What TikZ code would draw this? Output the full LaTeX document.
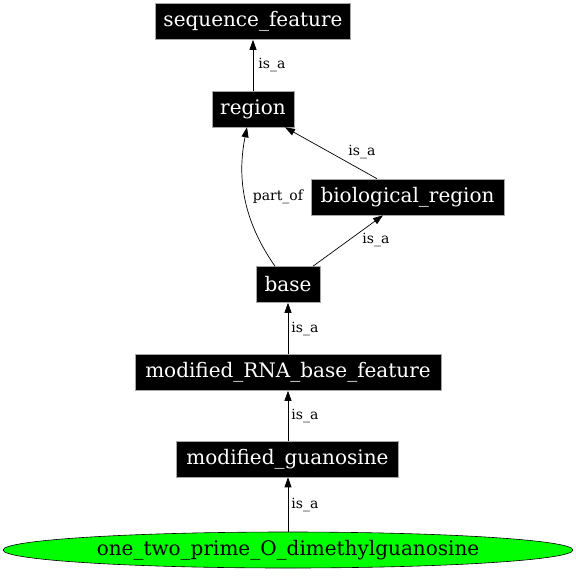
\documentclass[tikz,border=0pt]{standalone}
\usepackage{fontspec}
\newfontfamily\dvserif{DejaVu Serif}
\usetikzlibrary{arrows.meta,shapes.geometric}
\definecolor{leafgreen}{HTML}{00FF00}
\tikzset{
  termbox/.style={rectangle, fill=black, draw=gray!70, line width=0.6pt, text=white,
    font=\dvserif\fontsize{20}{24}\selectfont, minimum height=36pt, inner sep=0pt},
  leaf/.style={ellipse, fill=leafgreen, draw=black, line width=0.6pt,
    font=\dvserif\fontsize{20}{24}\selectfont, minimum height=36pt, minimum width=570pt, inner sep=0pt},
  rel/.style={draw=black, line width=0.7pt, -{Triangle[length=10pt,width=7pt]}},
  lbl/.style={font=\dvserif\fontsize{14}{16}\selectfont, inner sep=1pt, text=black}
}
\begin{document}
\begin{tikzpicture}[x=1pt,y=-1pt]
\useasboundingbox (0,0) rectangle (576,576);
\node[termbox, minimum width=195pt] (sf) at (253,21.5) {sequence\_feature};
\node[termbox, minimum width=82pt] (region) at (253,109) {region};
\node[termbox, minimum width=193pt] (bio) at (407.5,197) {biological\_region};
\node[termbox, minimum width=64pt] (base) at (288,284.5) {base};
\node[termbox, minimum width=306pt] (mrna) at (288,372.5) {modified\_RNA\_base\_feature};
\node[termbox, minimum width=222pt] (mg) at (287.5,459) {modified\_guanosine};
\node[leaf] (leafnode) at (288,550) {one\_two\_prime\_O\_dimethylguanosine};

\draw[rel] (region.north) -- node[lbl, anchor=west, xshift=4pt] {is\_a} (sf.south);
\draw[rel] ([xshift=-30.5pt]bio.north) -- node[lbl, xshift=31pt, yshift=1pt] {is\_a} ([xshift=32pt]region.south);
\draw[rel] ([xshift=-13pt]base.north) .. controls +(-35,-50) and +(-9,45) .. node[lbl, anchor=west, xshift=7pt, yshift=-2pt] {part\_of} ([xshift=-6pt]region.south);
\draw[rel] ([xshift=25pt]base.north) -- node[lbl, xshift=28pt, yshift=1pt] {is\_a} ([xshift=-24.5pt]bio.south);
\draw[rel] (mrna.north) -- node[lbl, anchor=west, xshift=2pt] {is\_a} (base.south);
\draw[rel] (mg.north -| mrna.north) -- node[lbl, anchor=west, xshift=2pt] {is\_a} (mrna.south);
\draw[rel] (leafnode.north) -- node[lbl, anchor=west, xshift=2pt] {is\_a} (leafnode.north |- mg.south);
\end{tikzpicture}
\end{document}
